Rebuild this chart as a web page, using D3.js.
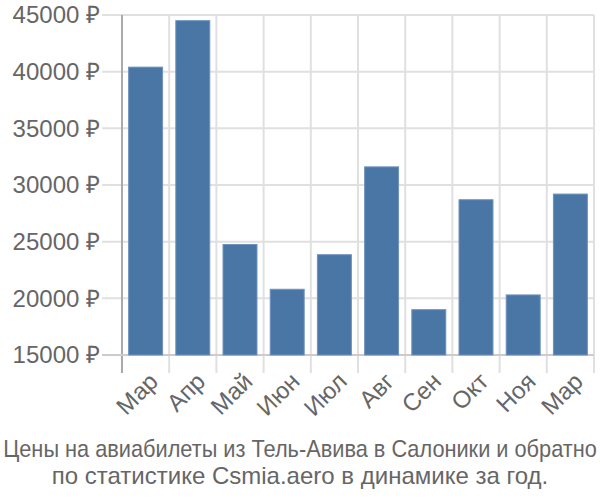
<!DOCTYPE html>
<html><head><meta charset="utf-8">
<script src="https://cdn.jsdelivr.net/npm/d3@7"></script>
<style>body{margin:0;background:#fff;}svg{display:block;}</style>
</head><body>
<svg id="c" width="600" height="500"></svg>
<script>
const categories = ["Мар","Апр","Май","Июн","Июл","Авг","Сен","Окт","Ноя","Мар"];
const values = [40400, 44500, 24750, 20800, 23850, 31600, 19000, 28700, 20300, 29200];
const yTicks = [15000, 20000, 25000, 30000, 35000, 40000, 45000];
const titleLines = ["Цены на авиабилеты из Тель-Авива в Салоники и обратно","по статистике Csmia.aero в динамике за год."];

(function () {
const svg = d3.select("#c");
const mL = 122, mR = 594, mT = 15, mB = 355;
const font = "'Liberation Sans', Arial, sans-serif";
const x = d3.scaleBand().domain(d3.range(categories.length)).range([mL, mR]).paddingInner(0.28).paddingOuter(0.14);
const y = d3.scaleLinear().domain([15000, 45000]).range([mB, mT]);

const step = x.step();
const bounds = d3.range(categories.length + 1).map(i => mL + i * step);
svg.append("g").selectAll("line").data(bounds.slice(1)).join("line")
  .attr("x1", d => d).attr("x2", d => d).attr("y1", mT).attr("y2", mB + 18)
  .attr("stroke", "#e0e0e0").attr("stroke-width", 2);
svg.append("g").selectAll("line").data(yTicks).join("line")
  .attr("x1", mL - 20).attr("x2", mR).attr("y1", d => y(d)).attr("y2", d => y(d))
  .attr("stroke", "#e0e0e0").attr("stroke-width", 2);

svg.append("line").attr("x1", mL).attr("x2", mL).attr("y1", mT).attr("y2", mB + 18)
  .attr("stroke", "#aaaaaa").attr("stroke-width", 2);
svg.append("line").attr("x1", mL - 20).attr("x2", mR).attr("y1", mB).attr("y2", mB)
  .attr("stroke", "#cccccc").attr("stroke-width", 2);

svg.append("g").selectAll("rect").data(values).join("rect")
  .attr("x", (d, i) => x(i)).attr("width", x.bandwidth())
  .attr("y", d => y(d)).attr("height", d => mB - y(d))
  .attr("fill", "#4a76a6").attr("stroke", "#6f93bd").attr("stroke-width", 1);

svg.append("g").selectAll("text").data(yTicks).join("text")
  .attr("x", mL - 22).attr("y", d => y(d)).attr("dy", "0.35em")
  .attr("text-anchor", "end").attr("font-family", font).attr("font-size", 24)
  .attr("fill", "#666").text(d => d + " ₽");

svg.append("g").selectAll("text").data(categories).join("text")
  .attr("transform", (d, i) => `translate(${x(i) + x.bandwidth() / 2 + 8},${mB + 22}) rotate(-45)`)
  .attr("text-anchor", "end").attr("dy", "0.35em")
  .attr("font-family", font).attr("font-size", 24).attr("fill", "#666").text(d => d);

const t = svg.append("g").selectAll("text").data(titleLines).join("text")
  .attr("x", 0).attr("y", 0).attr("text-anchor", "middle")
  .attr("font-family", font).attr("font-size", 24).attr("fill", "#666").text(d => d);
t.each(function (d, i) {
  const w = this.getComputedTextLength();
  const k = Math.min(1, 594 / w);
  d3.select(this).attr("transform", `translate(300,${457 + i * 27}) scale(${k},1)`);
});
})();
</script>
</body></html>
